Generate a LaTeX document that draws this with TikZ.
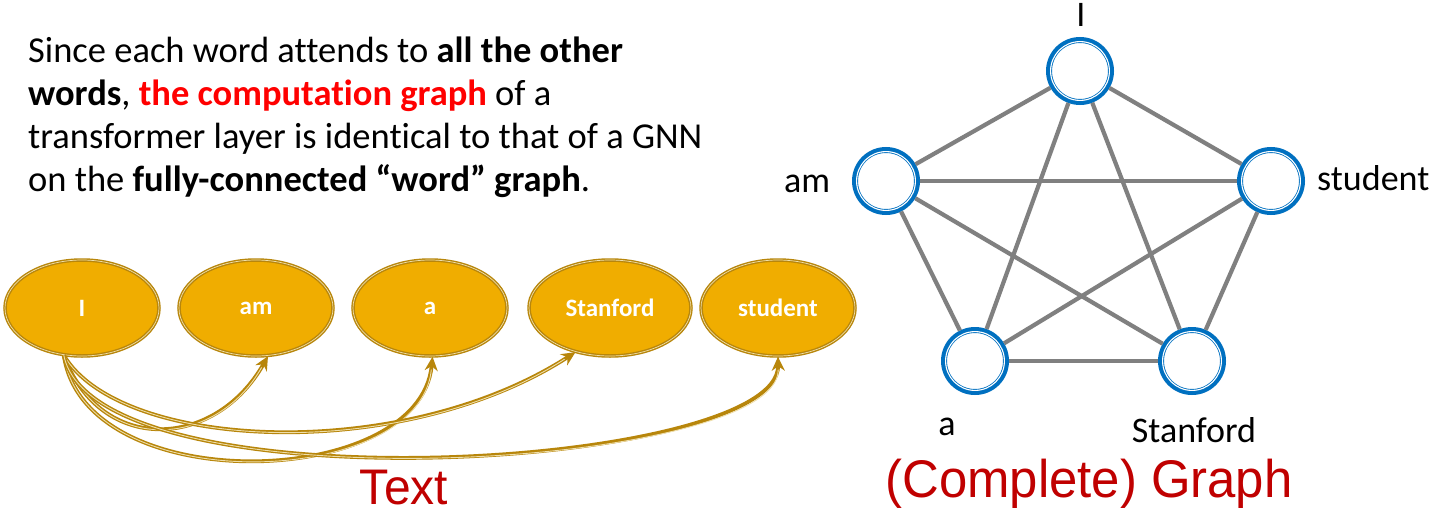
\documentclass[tikz,border=0pt]{standalone}
\usepackage{fontspec}
\setmainfont{Carlito}[Ligatures=NoCommon]
\newfontfamily\titlefont[FakeStretch=0.96]{Liberation Sans}
\usetikzlibrary{arrows.meta,shapes.geometric}
\definecolor{goldfill}{RGB}{240,173,0}
\definecolor{goldline}{RGB}{184,134,11}
\definecolor{goldlight}{RGB}{238,222,170}
\definecolor{nodeblue}{RGB}{0,112,192}
\definecolor{edgegray}{RGB}{128,128,128}
\definecolor{darkred}{RGB}{192,0,0}
\begin{document}
\begin{tikzpicture}[x=1pt,y=-1pt,
  word/.style={ellipse, minimum width=154pt, minimum height=96pt, fill=goldfill,
    draw=goldline, line width=1.4pt, double=goldlight, double distance=0.7pt,
    inner sep=0pt, font=\fontsize{25}{29}\selectfont\bfseries, text=white},
  gnode/.style={circle, minimum size=62pt, draw=nodeblue, line width=6pt, fill=white, inner sep=0pt},
  gedge/.style={draw=edgegray, line width=4.2pt},
  para/.style={anchor=base west, inner sep=0pt, font=\fontsize{36.5}{43}\selectfont},
  glabel/.style={inner sep=0pt, font=\fontsize{36}{43}\selectfont},
  arrout/.style={draw=goldline, line width=3.8pt, -{Stealth[length=14pt, width=13pt]}},
  arrin/.style={draw=goldlight, line width=0.9pt, shorten >=13pt},
  bigtitle/.style={anchor=base, inner sep=0pt, text=darkred, font=\titlefont\fontsize{53}{60}\selectfont}
]
\useasboundingbox (0,0) rectangle (1429,514);
\fill[white] (0,0) rectangle (1429,514);

% paragraph
\node[para] (p1) at (28,62) {Since each word attends to \textbf{all the other}};
\node[para] (p2) at (28,105) {\textbf{words}, \textcolor{red}{\textbf{the computation graph}} of a};
\node[para] (p3) at (28,148) {transformer layer is identical to that of a GNN};
\node[para] (p4) at (28,191) {on the \textbf{fully-connected “word” graph}.};

% word ellipses
\node[word] (wI) at (82,308) {I};
\node[word] (wam) at (256,308) {am};
\node[word] (wa) at (430,308) {a};
\node[word, minimum width=162pt] (wSt) at (610,308) {Stanford};
\node[word] (wstu) at (778,308) {student};

% attention arrows
\draw[arrout] (wI.-111) .. controls (100,455) and (215,450) .. (wam.-76);
\draw[arrin]  (wI.-111) .. controls (100,455) and (215,450) .. (wam.-76);
\draw[arrout] (wI.-111) .. controls (85,500) and (420,490) .. (wa.-87);
\draw[arrin]  (wI.-111) .. controls (85,500) and (420,490) .. (wa.-87);
\draw[arrout] (wI.-111) .. controls (120,450) and (400,465) .. (wSt.-128);
\draw[arrin]  (wI.-111) .. controls (120,450) and (400,465) .. (wSt.-128);
\draw[arrout] (wI.-111) .. controls (95,510) and (780,470) .. (wstu.-90);
\draw[arrin]  (wI.-111) .. controls (95,510) and (780,470) .. (wstu.-90);

\node[bigtitle, font=\titlefont\fontsize{50}{56}\selectfont] (ttext) at (404,504) {Text};

% graph nodes
\node[gnode] (gI) at (1080,71) {};
\node[gnode] (gam) at (886,181) {};
\node[gnode] (gstu) at (1271,181) {};
\node[gnode] (ga) at (975,361) {};
\node[gnode] (gSt) at (1192,361) {};
\foreach \n in {gI,gam,gstu,ga,gSt}
  \draw[white, line width=1.1pt] (\n.center) circle [radius=29.4pt];

% graph edges
\draw[gedge] (gI) -- (gam);
\draw[gedge] (gI) -- (gstu);
\draw[gedge] (gI) -- (ga);
\draw[gedge] (gI) -- (gSt);
\draw[gedge] (gam) -- (gstu);
\draw[gedge] (gam) -- (ga);
\draw[gedge] (gam) -- (gSt);
\draw[gedge] (gstu) -- (ga);
\draw[gedge] (gstu) -- (gSt);
\draw[gedge] (ga) -- (gSt);

% graph labels
\node[glabel, anchor=base] (lI) at (1081,26) {I};
\node[glabel, anchor=base west] (lam) at (784,192) {am};
\node[glabel, anchor=base west] (lstu) at (1317,190) {student};
\node[glabel, anchor=base] (la) at (947,435) {a};
\node[glabel, anchor=base] (lSt) at (1194,442) {Stanford};

\node[bigtitle] (tgraph) at (1089,497) {(Complete) Graph};
\end{tikzpicture}
\end{document}
